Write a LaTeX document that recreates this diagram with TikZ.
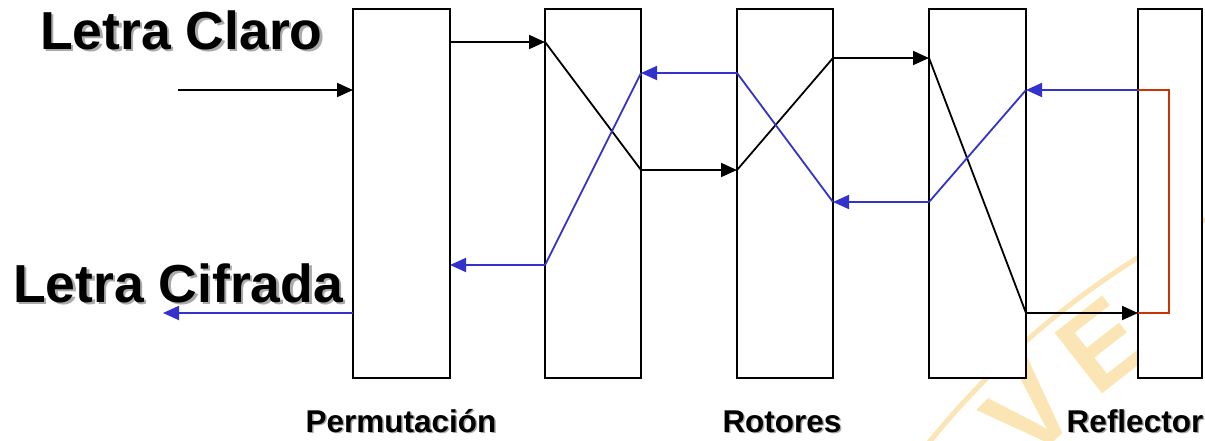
\documentclass[tikz,border=0pt]{standalone}
\usepackage{fontspec}
\setmainfont{Liberation Sans}
\usetikzlibrary{arrows.meta}
\definecolor{blu}{RGB}{51,51,204}
\definecolor{rdo}{RGB}{204,51,0}
\definecolor{wmk}{RGB}{251,229,180}
\definecolor{shd}{RGB}{170,170,170}
\begin{document}
\begin{tikzpicture}[x=1pt,y=-1pt,
  box/.style={draw=black, line width=2.8pt, fill=white, inner sep=0pt, outer sep=0pt,
              minimum height=369pt},
  blk/.style={draw=black, line width=1.8pt},
  bluline/.style={draw=blu, line width=1.8pt},
  redline/.style={draw=rdo, line width=1.8pt},
  tip/.style={-{Triangle[length=16pt,width=14pt]}},
  bigtitle/.style={font=\fontsize{53.5}{60}\selectfont\bfseries, inner sep=0pt, anchor=base west},
  lbl/.style={font=\fontsize{31.5}{36}\selectfont\bfseries, inner sep=0pt, anchor=base},
  wmletter/.style={font=\fontsize{112}{120}\selectfont\bfseries, text=wmk, inner sep=0pt}
]
\useasboundingbox (0,0) rectangle (1205,440);
% watermark (behind everything)
\draw[wmk, line width=5pt] (1581,969) circle[radius=838];
\node[wmletter, rotate=45] (wv) at (1030,412) {V};
\node[wmletter, rotate=38] (we) at (1102,345) {E};

% boxes
\node[box, minimum width=97pt] (p)  at (401.5,193.5) {};
\node[box, minimum width=96pt] (r1) at (593,193.5) {};
\node[box, minimum width=96pt] (r2) at (785,193.5) {};
\node[box, minimum width=97pt] (r3) at (977.5,193.5) {};
\node[box, minimum width=64pt] (rf) at (1170,193.5) {};

% level coordinates
\coordinate (L42) at (0,42);
\coordinate (L58) at (0,58);
\coordinate (L73) at (0,73);
\coordinate (L90) at (0,90);
\coordinate (L170) at (0,170);
\coordinate (L202) at (0,202);
\coordinate (L265) at (0,265);
\coordinate (L313) at (0,313);
\coordinate (in) at (178,90);
\coordinate (out) at (163,313);
\coordinate (rfx) at (1169,0);

% forward (black) path
\draw[blk,tip] (in) -- (p.west |- L90);
\draw[blk,tip] (p.east |- L42) -- (r1.west |- L42);
\draw[blk] (r1.west |- L42) -- (r1.east |- L170);
\draw[blk,tip] (r1.east |- L170) -- (r2.west |- L170);
\draw[blk] (r2.west |- L170) -- (r2.east |- L58);
\draw[blk,tip] (r2.east |- L58) -- (r3.west |- L58);
\draw[blk] (r3.west |- L58) -- (r3.east |- L313);
\draw[blk,tip] (r3.east |- L313) -- (rf.west |- L313);

% reflector (red)
\draw[redline] (rf.west |- L313) -- (rfx |- L313) -- (rfx |- L90) -- (rf.west |- L90);

% return (blue) path
\draw[bluline,tip] (rf.west |- L90) -- (r3.east |- L90);
\draw[bluline] (r3.east |- L90) -- (r3.west |- L202);
\draw[bluline,tip] (r3.west |- L202) -- (r2.east |- L202);
\draw[bluline] (r2.east |- L202) -- (r2.west |- L73);
\draw[bluline,tip] (r2.west |- L73) -- (r1.east |- L73);
\draw[bluline] (r1.east |- L73) -- (r1.west |- L265);
\draw[bluline,tip] (r1.west |- L265) -- (p.east |- L265);
\draw[bluline,tip] (p.west |- L313) -- (out);

% titles with shadow
\node[bigtitle, text=shd] (lcs) at (42.5,51.5) {Letra Claro};
\node[bigtitle] (lc) at (40,49) {Letra Claro};
\node[bigtitle, text=shd] (lfs) at (15.5,304.5) {Letra Cifrada};
\node[bigtitle] (lf) at (13,302) {Letra Cifrada};

% bottom labels
\node[lbl, text=shd] (tps) at (402.5,433.5) {Permutación};
\node[lbl] (tp) at (401,432) {Permutación};
\node[lbl, text=shd] (trs) at (783.5,433.5) {Rotores};
\node[lbl] (tr) at (782,432) {Rotores};
\node[lbl, text=shd] (tfs) at (1136.5,433.5) {Reflector};
\node[lbl] (tf) at (1135,432) {Reflector};
\end{tikzpicture}
\end{document}
